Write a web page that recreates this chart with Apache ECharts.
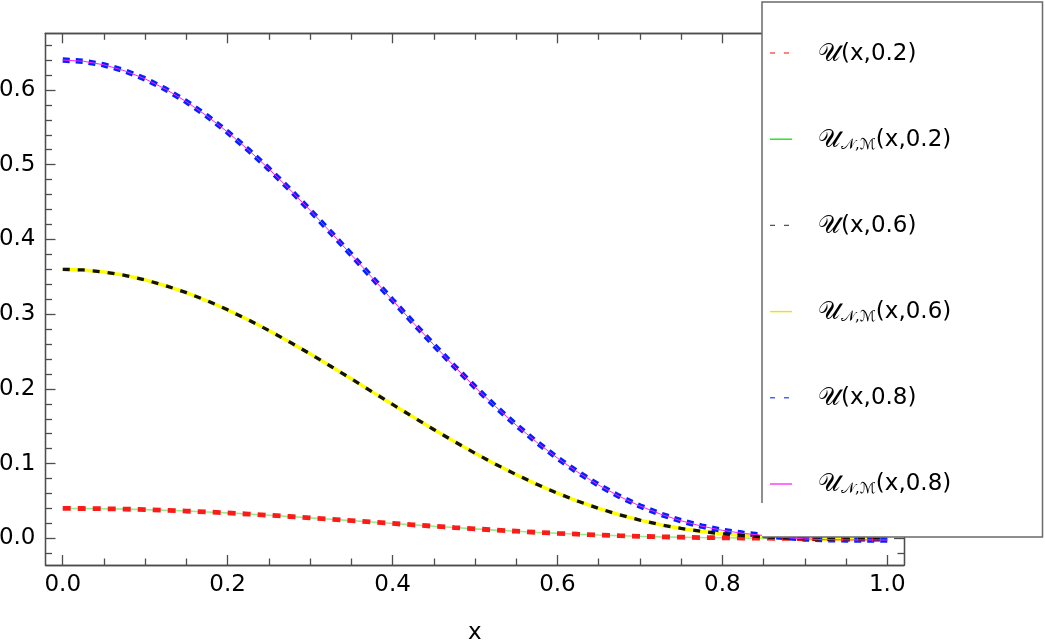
<!DOCTYPE html>
<html>
<head>
<meta charset="utf-8">
<script src="https://cdn.jsdelivr.net/npm/echarts@6/dist/echarts.min.js"></script>
<style>
html,body{margin:0;padding:0;background:#fff;}
#chart{width:1045px;height:642px;}
</style>
</head>
<body>
<div id="chart"></div>
<script>
// x sample positions
const xs = [0,0.025,0.05,0.075,0.1,0.125,0.15,0.175,0.2,0.225,0.25,0.275,0.3,0.325,0.35,0.375,0.4,0.425,0.45,0.475,0.5,0.525,0.55,0.575,0.6,0.625,0.65,0.675,0.7,0.725,0.75,0.775,0.8,0.825,0.85,0.875,0.9,0.925,0.95,0.975,1.0];

// U(x,0.2) exact (red dashed) and approximation (green)
const u02 = [0.0400,0.0399,0.0396,0.0391,0.0384,0.0376,0.0365,0.0353,0.0340,0.0325,0.0309,0.0292,0.0274,0.0256,0.0237,0.0218,0.0199,0.0180,0.0162,0.0144,0.0127,0.0110,0.0095,0.0080,0.0067,0.0055,0.0044,0.0035,0.0027,0.0020,0.0015,0.0010,0.0007,0.0004,0.0002,0.0000,-0.0004,-0.0007,-0.0009,-0.0010,-0.0010];
const uNM02 = [0.0400,0.0399,0.0396,0.0391,0.0384,0.0376,0.0365,0.0353,0.0340,0.0325,0.0309,0.0292,0.0274,0.0256,0.0237,0.0218,0.0199,0.0180,0.0162,0.0144,0.0127,0.0110,0.0095,0.0080,0.0067,0.0055,0.0044,0.0035,0.0027,0.0020,0.0015,0.0010,0.0007,0.0004,0.0002,0.0000,-0.0004,-0.0007,-0.0009,-0.0010,-0.0010];

// U(x,0.6) exact (black dashed) and approximation (yellow)
const u06 = [0.3600,0.3591,0.3564,0.3520,0.3458,0.3380,0.3287,0.3179,0.3058,0.2925,0.2781,0.2628,0.2469,0.2303,0.2134,0.1963,0.1792,0.1623,0.1456,0.1295,0.1139,0.0991,0.0852,0.0723,0.0604,0.0496,0.0400,0.0316,0.0244,0.0182,0.0132,0.0092,0.0060,0.0037,0.0021,0.0006,-0.0006,-0.0013,-0.0016,-0.0017,-0.0017];
const uNM06 = [0.3600,0.3591,0.3564,0.3520,0.3458,0.3380,0.3287,0.3179,0.3058,0.2925,0.2781,0.2628,0.2469,0.2303,0.2134,0.1963,0.1792,0.1623,0.1456,0.1295,0.1139,0.0991,0.0852,0.0723,0.0604,0.0496,0.0400,0.0316,0.0244,0.0182,0.0132,0.0092,0.0060,0.0037,0.0021,0.0006,-0.0006,-0.0013,-0.0016,-0.0017,-0.0017];

// U(x,0.8) exact (blue dashed) and approximation (magenta)
const u08 = [0.6400,0.6384,0.6336,0.6257,0.6148,0.6009,0.5843,0.5651,0.5436,0.5199,0.4944,0.4673,0.4389,0.4095,0.3795,0.3491,0.3186,0.2885,0.2589,0.2301,0.2025,0.1762,0.1515,0.1285,0.1074,0.0883,0.0712,0.0562,0.0433,0.0324,0.0234,0.0163,0.0107,0.0067,0.0038,0.0012,-0.0008,-0.0018,-0.0021,-0.0022,-0.0022];
const uNM08 = [0.6400,0.6384,0.6336,0.6257,0.6148,0.6009,0.5843,0.5651,0.5436,0.5199,0.4944,0.4673,0.4389,0.4095,0.3795,0.3491,0.3186,0.2885,0.2589,0.2301,0.2025,0.1762,0.1515,0.1285,0.1074,0.0883,0.0712,0.0562,0.0433,0.0324,0.0234,0.0163,0.0107,0.0067,0.0038,0.0012,-0.0008,-0.0018,-0.0021,-0.0022,-0.0022];

// tick values
const xMajor = [0,0.2,0.4,0.6,0.8,1.0];
const xMinor = [0.05,0.1,0.15,0.25,0.3,0.35,0.45,0.5,0.55,0.65,0.7,0.75,0.85,0.9,0.95];
const yMajor = [0,0.1,0.2,0.3,0.4,0.5,0.6];
const yMinor = [-0.02,0.02,0.04,0.06,0.08,0.12,0.14,0.16,0.18,0.22,0.24,0.26,0.28,0.32,0.34,0.36,0.38,0.42,0.44,0.46,0.48,0.52,0.54,0.56,0.58,0.62,0.64,0.66];

const legendRich = {
  U02: '{u|𝒰}{t|(x,0.2)}',
  UNM02: '{u|𝒰}{s|𝒩,ℳ}{t|(x,0.2)}',
  U06: '{u|𝒰}{t|(x,0.6)}',
  UNM06: '{u|𝒰}{s|𝒩,ℳ}{t|(x,0.6)}',
  U08: '{u|𝒰}{t|(x,0.8)}',
  UNM08: '{u|𝒰}{s|𝒩,ℳ}{t|(x,0.8)}'
};
// legend swatch styles (colour, dashed?)
const legendSwatch = [['#ff5a5a',true],['#1ee01e',false],['#555555',true],['#e6e600',false],['#4466ff',true],['#ff33ff',false]];

const FONT = '"DejaVu Sans", "Liberation Sans", sans-serif';
const MATHFONT = '"DejaVu Serif", "DejaVu Sans", "Noto Sans", serif';
const AX = '#4d4d4d';

function pts(arr){ return xs.map((x,i)=>[x, arr[i]]); }

const X_MIN = -0.0209, X_MAX = 1.0203, Y_MIN = -0.0357, Y_MAX = 0.6758;

function xAx(pos, vals, len, labels){
  return {
    type:'value', position:pos, min:X_MIN, max:X_MAX,
    axisLine:{show:true, onZero:false, lineStyle:{color:AX, width:1.3}},
    axisTick:{show:true, inside:true, length:len, customValues:vals, lineStyle:{color:AX, width:1.3}},
    axisLabel:{show:labels, customValues:xMajor, color:'#000', fontSize:23, fontFamily:FONT, margin:9,
      formatter:(v)=>v.toFixed(1)},
    splitLine:{show:false}
  };
}
function yAx(pos, vals, len, labels){
  return {
    type:'value', position:pos, min:Y_MIN, max:Y_MAX,
    axisLine:{show:true, onZero:false, lineStyle:{color:AX, width:1.3}},
    axisTick:{show:true, inside:true, length:len, customValues:vals, lineStyle:{color:AX, width:1.3}},
    axisLabel:{show:labels, customValues:yMajor, color:'#000', fontSize:23, fontFamily:FONT, margin:10,
      formatter:(v)=>v.toFixed(1)},
    splitLine:{show:false}
  };
}

const xAxes = [xAx('bottom', xMajor, 10, true), xAx('bottom', xMinor, 6.5, false), xAx('top', xMajor, 10, false), xAx('top', xMinor, 6.5, false)];
xAxes[0].name = 'x';
xAxes[0].nameLocation = 'middle';
xAxes[0].nameGap = 57;
xAxes[0].nameTextStyle = {color:'#000', fontSize:23, fontFamily:FONT};
const yAxes = [yAx('left', yMajor, 10, true), yAx('left', yMinor, 6.5, false), yAx('right', yMajor, 10, false), yAx('right', yMinor, 6.5, false)];

const LEG_TOP = 42, LEG_ROW = 86.2;
const swatches = legendSwatch.map((s, i) => ({
  type:'line', z:11,
  shape:{x1:770, y1:LEG_TOP + 11 + LEG_ROW*i, x2:792, y2:LEG_TOP + 11 + LEG_ROW*i},
  style:{stroke:s[0], lineWidth:1.4, lineDash: s[1] ? [5,9] : null}
}));

const chart = echarts.init(document.getElementById('chart'), null, {renderer:'canvas'});
chart.setOption({
  animation:false,
  backgroundColor:'#fff',
  grid:{left:45.5, right:141, top:33.3, bottom:77, containLabel:false, outerBoundsMode:'none'},
  xAxis: xAxes,
  yAxis: yAxes,
  legend:{
    show:true, orient:'vertical', left:770, top:LEG_TOP, padding:0, itemGap:61,
    itemWidth:22, itemHeight:2, z:10,
    selectedMode:false,
    icon:'rect',
    itemStyle:{opacity:0},
    formatter:(n)=>legendRich[n],
    textStyle:{
      color:'#000', fontSize:23, fontFamily:FONT, padding:[0,0,0,21], lineHeight:24,
      rich:{
        u:{fontSize:25, fontFamily:MATHFONT, color:'#000', lineHeight:24},
        t:{fontSize:23, fontFamily:FONT, color:'#000', lineHeight:24},
        s:{fontSize:15, fontFamily:MATHFONT, color:'#000', lineHeight:12, verticalAlign:'bottom'}
      }
    },
    data:['U02','UNM02','U06','UNM06','U08','UNM08']
  },
  graphic:[
    {type:'rect', z:8, shape:{x:762, y:2, width:281, height:535}, style:{fill:'#fff'}},
    {type:'polyline', z:9, shape:{points:[[762,503],[762,2],[1042.5,2],[1042.5,537],[762,537]]}, style:{stroke:'#6a6a6a', lineWidth:1.5, fill:null}}
  ].concat(swatches),
  series:[
    {name:'UNM02', type:'line', data:pts(uNM02), symbol:'none', z:2, itemStyle:{color:'#8fef8f'}, lineStyle:{color:'#8fef8f', width:1.6}},
    {name:'U02', type:'line', data:pts(u02), symbol:'none', z:3, itemStyle:{color:'#ff1a1a'}, lineStyle:{color:'#ff1a1a', width:4.8, type:[8,7]}},
    {name:'UNM06', type:'line', data:pts(uNM06), symbol:'none', z:2, itemStyle:{color:'#ffff00'}, lineStyle:{color:'#ffff00', width:3.5}},
    {name:'U06', type:'line', data:pts(u06), symbol:'none', z:3, itemStyle:{color:'#111111'}, lineStyle:{color:'#111111', width:3.3, type:[7,8]}},
    {name:'U08', type:'line', data:pts(u08), symbol:'none', z:2, itemStyle:{color:'#0022ff'}, lineStyle:{color:'#0022ff', width:5.5, type:[7,6]}},
    {name:'UNM08', type:'line', data:pts(uNM08), symbol:'none', z:3, itemStyle:{color:'#ff20ff'}, lineStyle:{color:'#ff20ff', width:1}}
  ]
});
</script>
</body>
</html>
